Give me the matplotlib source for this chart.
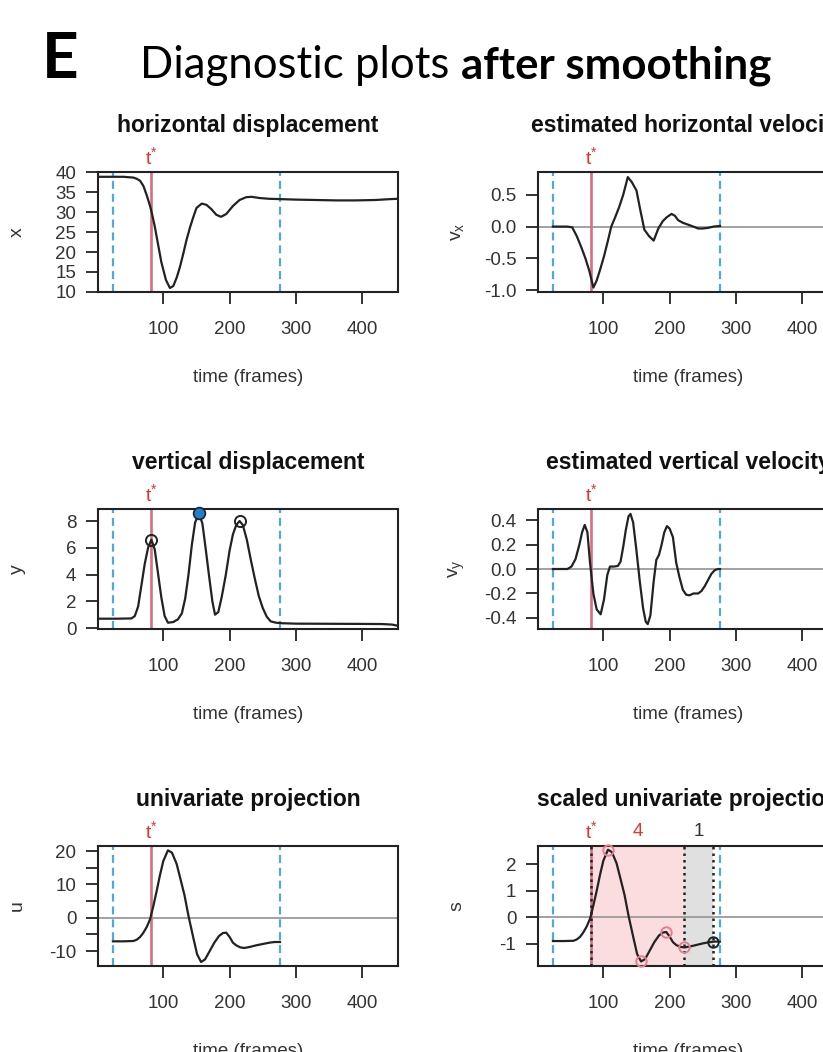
import matplotlib
matplotlib.use('Agg')
import matplotlib.pyplot as plt
import matplotlib.transforms as mtransforms

plt.rcParams['font.family'] = ['Liberation Sans', 'DejaVu Sans']
plt.rcParams['axes.unicode_minus'] = False
plt.rcParams['mathtext.fontset'] = 'custom'
plt.rcParams['mathtext.rm'] = 'Liberation Sans'
plt.rcParams['mathtext.it'] = 'Liberation Sans:italic'

# ---- data (time in frames) ----
t_start, t_onset, t_end = 24, 82, 276

# horizontal displacement x
t_x = [2, 20, 40, 55, 60, 65, 70, 75, 80, 83, 87, 92, 97, 104, 110, 115, 120, 125, 130, 135,
       140, 145, 150, 158, 165, 172, 180, 187, 195, 205, 215, 225, 233, 245, 260, 280, 300,
       330, 360, 390, 420, 440, 453]
x_val = [38.8, 38.8, 38.8, 38.6, 38.3, 37.8, 36.5, 34.2, 31.5, 29.5, 26.5, 22.0, 17.5, 13.0,
         11.0, 11.5, 13.5, 16.2, 19.5, 23.0, 26.0, 28.6, 31.0, 32.1, 31.8, 30.8, 29.3, 28.8,
         29.5, 31.5, 33.0, 33.7, 33.8, 33.5, 33.3, 33.2, 33.1, 33.0, 32.9, 32.9, 33.0, 33.2, 33.3]

# estimated horizontal velocity vx
t_vx = [24, 35, 45, 53, 60, 67, 73, 79, 85, 90, 96, 101, 107, 112, 118, 124, 130, 137, 143,
        150, 156, 162, 169, 176, 183, 190, 196, 203, 208, 213, 220, 228, 236, 243, 250, 258,
        266, 276]
vx_val = [0.0, 0.0, 0.0, -0.01, -0.15, -0.33, -0.5, -0.7, -0.96, -0.85, -0.65, -0.47, -0.22,
          0.0, 0.15, 0.31, 0.5, 0.78, 0.7, 0.57, 0.25, -0.05, -0.15, -0.22, -0.03, 0.09, 0.15,
          0.2, 0.17, 0.10, 0.06, 0.03, 0.0, -0.03, -0.03, -0.02, 0.0, 0.01]

# vertical displacement y
t_y = [2, 30, 52, 57, 62, 67, 72, 77, 82, 87, 92, 97, 102, 107, 115, 122, 128, 133, 138, 143,
       148, 154, 159, 164, 169, 174, 178, 183, 188, 194, 200, 205, 210, 215, 220, 226, 232,
       238, 244, 250, 256, 262, 270, 280, 300, 350, 400, 430, 445, 453]
y_val = [0.7, 0.7, 0.72, 0.9, 1.6, 3.2, 4.8, 6.0, 6.6, 5.9, 4.1, 2.3, 0.9, 0.4, 0.45, 0.65,
         1.1, 2.2, 4.0, 6.2, 7.9, 8.57, 7.8, 5.9, 3.9, 2.0, 1.0, 1.2, 2.3, 3.9, 5.8, 7.0, 7.7,
         8.0, 7.7, 6.6, 5.1, 3.7, 2.4, 1.5, 0.85, 0.5, 0.4, 0.36, 0.33, 0.32, 0.31, 0.3, 0.26,
         0.18]
y_peak_t = [82, 154, 215]
y_peak_v = [6.6, 8.57, 8.0]

# estimated vertical velocity vy
t_vy = [24, 35, 46, 52, 58, 64, 68, 72, 76, 80, 85, 90, 96, 101, 106, 110, 116, 122, 126, 130,
        134, 138, 141, 145, 150, 155, 160, 164, 167, 171, 176, 180, 184, 188, 192, 196, 200,
        205, 210, 215, 220, 225, 230, 236, 243, 248, 253, 258, 263, 268, 273, 276]
vy_val = [0.0, 0.0, 0.0, 0.02, 0.08, 0.2, 0.3, 0.36, 0.3, 0.05, -0.2, -0.33, -0.37, -0.25,
          -0.05, 0.02, 0.02, 0.025, 0.06, 0.18, 0.32, 0.43, 0.45, 0.38, 0.15, -0.1, -0.32,
          -0.43, -0.45, -0.38, -0.1, 0.075, 0.115, 0.2, 0.3, 0.35, 0.33, 0.26, 0.05, -0.07,
          -0.17, -0.21, -0.215, -0.2, -0.2, -0.18, -0.14, -0.09, -0.04, -0.01, 0.0, 0.0]

# univariate projection u and scaled projection s
t_u = [24, 40, 55, 60, 65, 70, 75, 80, 85, 90, 95, 100, 107, 113, 120, 126, 132, 138, 145,
       151, 157, 163, 170, 177, 184, 190, 195, 200, 205, 210, 216, 222, 230, 240, 250, 260,
       268, 276]
u_val = [-7.1, -7.1, -7.0, -6.6, -5.8, -4.5, -2.8, -0.5, 3.5, 8.0, 12.8, 17.0, 20.2, 19.5,
         16.2, 11.5, 6.7, 0.5, -5.8, -11.0, -13.3, -12.5, -10.0, -7.5, -5.5, -4.6, -4.5, -5.8,
         -7.5, -8.3, -8.9, -9.1, -8.8, -8.3, -7.9, -7.5, -7.3, -7.3]
s_val = [-0.89, -0.89, -0.88, -0.83, -0.73, -0.56, -0.34, -0.05, 0.45, 1.0, 1.6, 2.13, 2.55,
         2.46, 2.04, 1.45, 0.85, 0.07, -0.72, -1.38, -1.66, -1.57, -1.25, -0.93, -0.68, -0.57,
         -0.55, -0.72, -0.93, -1.04, -1.11, -1.13, -1.10, -1.04, -0.98, -0.93, -0.91, -0.91]
s_ext_t = [107, 157, 195, 222]
s_ext_v = [2.55, -1.66, -0.55, -1.13]
s_last_t, s_last_v = 265, -0.91
seg_bounds = [82, 222, 265]
seg_labels = ['4', '1']

# ---- styling ----
BLUE = '#4FA8E0'
RED_LINE = '#D4707F'
RED_TXT = '#E03333'
CURVE = '#222222'
TXT = '#333333'

W, H = 8.23, 10.52
fig = plt.figure(figsize=(W, H), dpi=100)


def px_axes(left, top):
    return fig.add_axes([left / 823, 1 - (top + 120) / 1052, 300 / 823, 120 / 1052])


def style(ax, title, ylabel, ylim, yticks, yticklabels=None, zero=False):
    ax.set_xlim(1.5, 454)
    ax.set_ylim(*ylim)
    ax.set_xticks([100, 200, 300, 400])
    ax.set_xticklabels(['100', '200', '300', '400'])
    ax.set_yticks(yticks)
    if yticklabels is None:
        yticklabels = [f'{v:g}' if isinstance(v, int) else f'{v:.1f}' for v in yticks]
    ax.set_yticklabels(yticklabels)
    ax.tick_params(axis='both', direction='out', length=8.6, width=1.3, colors=CURVE,
                   labelcolor=TXT, labelsize=13.5)
    ax.tick_params(axis='x', pad=12)
    ax.tick_params(axis='y', pad=7)
    for sp in ax.spines.values():
        sp.set_linewidth(1.5)
        sp.set_color(CURVE)
    ax.text(0.5, 1.39, title, transform=ax.transAxes, ha='center', va='center',
            fontsize=16.5, fontweight='bold', color='#111111')
    ax.text(-0.27, 0.5, ylabel, transform=ax.transAxes, ha='center', va='center',
            rotation=90, fontsize=14, color=TXT)
    ax.text(0.5, -0.715, 'time (frames)', transform=ax.transAxes, ha='center',
            va='center', fontsize=13.5, color=TXT)
    if zero:
        ax.axhline(0, color='#9a9a9a', lw=1.3, zorder=1)
    for tv in (t_start, t_end):
        ax.axvline(tv, color=BLUE, lw=1.6, dashes=(3.6, 2.2), zorder=2)
    ax.axvline(t_onset, color=RED_LINE, lw=1.9, zorder=2)
    trans = mtransforms.blended_transform_factory(ax.transData, ax.transAxes)
    ax.text(t_onset, 1.125, r'$\mathregular{t^{*}}$', transform=trans, ha='center',
            va='center', fontsize=14, color=RED_TXT)
    return trans


L1, L2 = 98, 538
R1, R2, R3 = 172, 509, 846

# horizontal displacement
ax1 = px_axes(L1, R1)
ax1.plot(t_x, x_val, color=CURVE, lw=1.6, zorder=3)
style(ax1, 'horizontal displacement', 'x', (10, 40), [10, 15, 20, 25, 30, 35, 40])

# estimated horizontal velocity
ax2 = px_axes(L2, R1)
ax2.plot(t_vx, vx_val, color=CURVE, lw=1.6, zorder=3)
style(ax2, 'estimated horizontal velocity', r'$\mathregular{v_x}$', (-1.03, 0.86),
      [-1.0, -0.5, 0.0, 0.5], ['-1.0', '-0.5', '0.0', '0.5'], zero=True)

# vertical displacement
ax3 = px_axes(L1, R2)
ax3.plot(t_y, y_val, color=CURVE, lw=1.6, zorder=3)
ax3.plot([y_peak_t[0], y_peak_t[2]], [y_peak_v[0], y_peak_v[2]], 'o', ms=8,
         mfc='none', mec=CURVE, mew=1.4, zorder=4)
ax3.plot([y_peak_t[1]], [y_peak_v[1]], 'o', ms=8.5, mfc='#1E7FD0', mec=CURVE,
         mew=1.2, zorder=4, clip_on=False)
style(ax3, 'vertical displacement', 'y', (-0.07, 8.9), [0, 2, 4, 6, 8])

# estimated vertical velocity
ax4 = px_axes(L2, R2)
ax4.plot(t_vy, vy_val, color=CURVE, lw=1.6, zorder=3)
style(ax4, 'estimated vertical velocity', r'$\mathregular{v_y}$', (-0.49, 0.49),
      [-0.4, -0.2, 0.0, 0.2, 0.4], ['-0.4', '-0.2', '0.0', '0.2', '0.4'], zero=True)

# univariate projection
ax5 = px_axes(L1, R3)
ax5.plot(t_u, u_val, color=CURVE, lw=1.6, zorder=3)
style(ax5, 'univariate projection', 'u', (-14.5, 21.5),
      [-10, -5, 0, 5, 10, 15, 20], ['-10', '', '0', '', '10', '', '20'], zero=True)

# scaled univariate projection
ax6 = px_axes(L2, R3)
ax6.axvspan(seg_bounds[0], seg_bounds[1], color='#FBDCDF', zorder=0, lw=0)
ax6.axvspan(seg_bounds[1], seg_bounds[2], color='#E0E0E0', zorder=0, lw=0)
ax6.plot(t_u, s_val, color=CURVE, lw=1.6, zorder=3)
trans6 = style(ax6, 'scaled univariate projection', 's', (-1.83, 2.69), [-1, 0, 1, 2],
               zero=True)
for b in seg_bounds:
    ax6.axvline(b, color='#222222', lw=1.8, ls=(0, (1, 1.6)), zorder=3)
ax6.plot(s_ext_t, s_ext_v, 'o', ms=7.5, mfc='none', mec='#E57F8C', mew=1.4, zorder=4,
         clip_on=False)
ax6.plot([s_last_t], [s_last_v], 'o', ms=7.5, mfc='none', mec=CURVE, mew=1.4, zorder=4)
ax6.text((seg_bounds[0] + seg_bounds[1]) / 2, 1.125, seg_labels[0], transform=trans6,
         ha='center', va='center', fontsize=13.5, color=RED_TXT)
ax6.text((seg_bounds[1] + seg_bounds[2]) / 2, 1.125, seg_labels[1], transform=trans6,
         ha='center', va='center', fontsize=13.5, color=TXT)

# ---- header ----
fig.text(42 / 823, 1 - 78 / 1052, 'E', family='Lato', fontweight='bold', fontsize=46,
         va='baseline', ha='left', color='black')
t1 = fig.text(140 / 823, 1 - 78 / 1052, 'Diagnostic plots ', family='Lato', fontsize=31.5,
              va='baseline', ha='left', color='black')
r = fig.canvas.get_renderer()
bb = t1.get_window_extent(renderer=r)
fig.text(bb.x1 / fig.bbox.width, 1 - 78 / 1052, 'after smoothing', family='Lato',
         fontweight='bold', fontsize=31.5, va='baseline', ha='left', color='black')

fig.savefig('out.png', dpi=100)
